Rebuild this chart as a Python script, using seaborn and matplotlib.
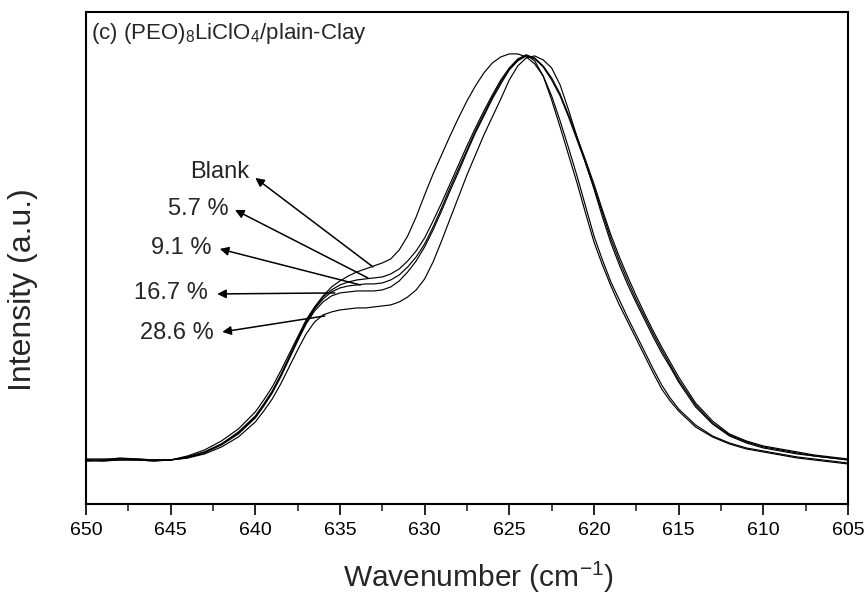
import numpy as np
import pandas as pd
import matplotlib
matplotlib.use("Agg")
import matplotlib.pyplot as plt
import seaborn as sns

# Wavenumber axis (cm^-1): 1 cm^-1 steps on the flat parts, 0.5 cm^-1 steps over the band
wavenumber = [650, 649, 648, 647, 646, 645, 644, 643, 642, 641,
              640, 639.5, 639, 638.5, 638, 637.5, 637, 636.5, 636, 635.5, 635,
              634.5, 634, 633.5, 633, 632.5, 632, 631.5, 631, 630.5, 630,
              629.5, 629, 628.5, 628, 627.5, 627, 626.5, 626, 625.5, 625,
              624.5, 624, 623.5, 623, 622.5, 622, 621.5, 621, 620.5, 620,
              619.5, 619, 618.5, 618, 617.5, 617, 616.5, 616, 615.5, 615,
              614, 613, 612, 611, 610, 609, 608, 607, 606, 605]

blank = [-1, 0, 1, 1, 0, 0, 4, 10, 19, 31,
         48, 60, 73, 89, 106, 123, 140, 153, 164, 173, 179,
         184, 188, 191, 194, 197, 201, 210, 224, 243, 265,
         286, 305, 324, 342, 359, 374, 387, 397, 403, 406,
         406, 403, 396, 384, 364, 339, 312, 284, 254, 224,
         200, 178, 160, 142, 125, 108, 91, 75, 62, 51,
         35, 24, 17, 12, 9, 6, 3, 1, -1, -3]
clay_5_7 = [0, -1, 0, 0, -1, 0, 3, 8, 16, 28,
            44, 56, 69, 85, 103, 121, 138, 152, 163, 170, 175,
            178, 180, 181, 182, 183, 186, 191, 199, 209, 222,
            239, 257, 276, 295, 314, 332, 349, 365, 380, 392,
            401, 405, 399, 384, 360, 333, 305, 277, 247, 218,
            195, 174, 155, 138, 121, 104, 87, 71, 59, 49,
            33, 23, 16, 11, 8, 5, 2, 0, -2, -4]
clay_9_1 = [1, 1, 1, 0, 0, 0, 3, 8, 16, 27,
            43, 55, 68, 84, 102, 120, 137, 151, 161, 168, 172,
            174, 175, 176, 176, 177, 180, 185, 193, 203, 216,
            233, 252, 272, 291, 310, 329, 346, 363, 378, 391,
            400, 405, 402, 394, 382, 366, 345, 323, 300, 276,
            250, 225, 203, 183, 164, 146, 129, 113, 98, 83,
            57, 39, 26, 19, 14, 11, 8, 5, 3, 1]
clay_16_7 = [0, 0, 2, 1, 0, 0, 2, 7, 15, 26,
             42, 54, 67, 83, 101, 119, 136, 149, 158, 164, 167,
             168, 169, 169, 169, 170, 173, 179, 188, 199, 213,
             230, 249, 269, 288, 308, 327, 344, 361, 376, 390,
             399, 404, 401, 393, 380, 364, 343, 320, 297, 273,
             247, 221, 199, 179, 160, 143, 126, 110, 95, 80,
             55, 37, 25, 18, 13, 10, 7, 4, 2, 0]
clay_28_6 = [-1, -1, 0, 0, -1, 0, 2, 6, 13, 23,
             38, 49, 61, 76, 93, 110, 126, 138, 145, 148, 150,
             151, 152, 152, 153, 154, 155, 158, 163, 170, 181,
             198, 219, 241, 263, 285, 305, 325, 343, 361, 380,
             394, 402, 404, 400, 392, 375, 350, 323, 297, 271,
             243, 217, 195, 175, 157, 140, 123, 107, 93, 78,
             53, 36, 24, 17, 12, 9, 6, 4, 2, 0]

series_names = ["Blank", "5.7 %", "9.1 %", "16.7 %", "28.6 %"]
series_values = [blank, clay_5_7, clay_9_1, clay_16_7, clay_28_6]

# annotation anchors: (label x, label y, arrow head x, head y, arrow tail x, tail y)
label_pos = {
    "Blank":  (640.35, 288, 640.0, 282, 633.05, 193),
    "5.7 %":  (641.6, 251, 641.2, 250, 633.35, 182),
    "9.1 %":  (642.6, 212, 642.1, 211, 633.8, 175),
    "16.7 %": (642.8, 167, 642.25, 166, 635.3, 167),
    "28.6 %": (642.45, 127, 641.95, 128, 635.9, 144),
}

frames = []
for name, vals in zip(series_names, series_values):
    frames.append(pd.DataFrame({"wn": wavenumber, "I": vals, "sample": name}))
df = pd.concat(frames, ignore_index=True)

sns.set_theme(style="white")
plt.rcParams["font.family"] = ["Liberation Sans", "DejaVu Sans"]
plt.rcParams["mathtext.fontset"] = "custom"
plt.rcParams["mathtext.rm"] = "Liberation Sans"
plt.rcParams["mathtext.it"] = "Liberation Sans:italic"
plt.rcParams["mathtext.bf"] = "Liberation Sans:bold"

fig = plt.figure(figsize=(8.67, 5.95), dpi=100)
ax = fig.add_axes([0.0992, 0.153, 0.8788, 0.827])

sns.lineplot(data=df, x="wn", y="I", hue="sample",
             palette=["black"] * 5, linewidth=0.85, legend=False, ax=ax, sort=True)

ax.set_xlim(650, 605)
ax.set_ylim(-44, 448)
ax.set_xticks(list(range(650, 604, -5)))
ax.set_xticklabels([str(v) for v in range(650, 604, -5)])
ax.set_xticks([647.5 - 5 * i for i in range(9)], minor=True)
ax.set_yticks([])
ax.tick_params(axis="x", which="major", direction="out", length=8, width=1.2,
               labelsize=14, pad=5, colors="black", bottom=True)
ax.tick_params(axis="x", which="minor", direction="out", length=5, width=1.2, bottom=True)
for s in ax.spines.values():
    s.set_linewidth(1.5)
    s.set_color("black")

ax.set_xlabel("Wavenumber (cm$^{-1}$)", fontsize=21.5, va="center")
ax.xaxis.set_label_coords(0.515, -0.15)
ax.set_ylabel("Intensity (a.u.)", fontsize=23, va="center")
ax.yaxis.set_label_coords(-0.083, 0.435)

ax.text(0.006, 0.945, "(c) (PEO)$_8$LiClO$_4$/plain-Clay", transform=ax.transAxes,
        fontsize=16, ha="left", va="baseline")

for name in series_names:
    tx, ty, hx, hy, sx, sy = label_pos[name]
    ax.text(tx, ty, name, fontsize=17, ha="right", va="center")
    ax.annotate("", xy=(hx, hy), xytext=(sx, sy),
                arrowprops=dict(arrowstyle="-|>", color="black", lw=1.1,
                                mutation_scale=13, shrinkA=0, shrinkB=0))

fig.savefig("out.png", dpi=100)
